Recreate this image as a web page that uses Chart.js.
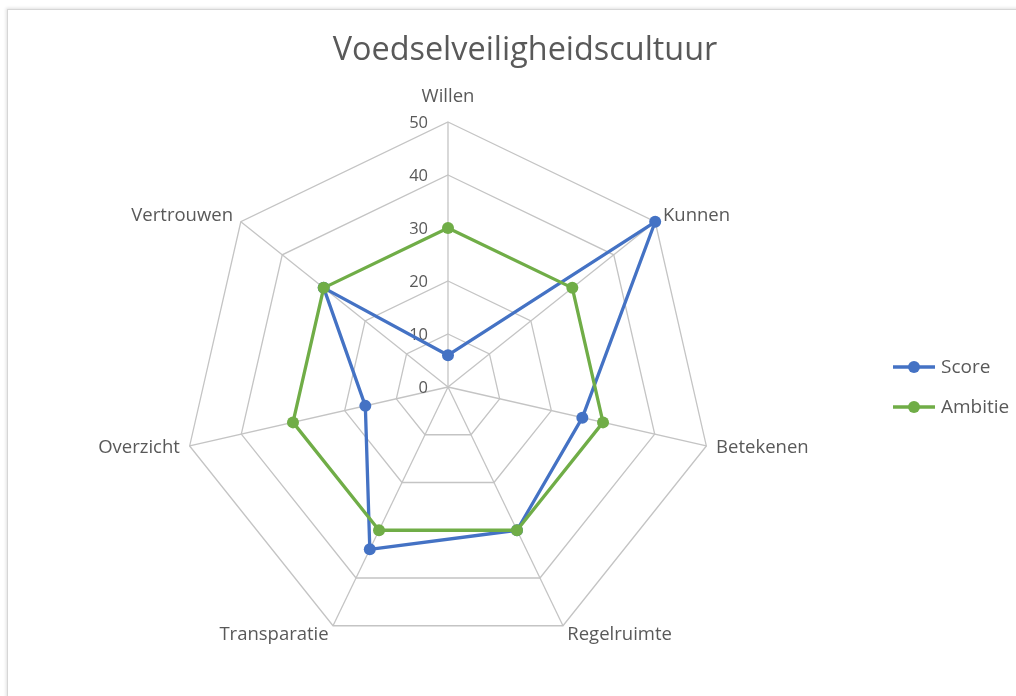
<!DOCTYPE html>
<html><head><meta charset="utf-8">
<script src="https://cdn.jsdelivr.net/npm/chart.js@4.4.1/dist/chart.umd.min.js"></script>
<style>
html,body{margin:0;padding:0;background:#fff;overflow:hidden;width:1016px;height:696px}
#frame{position:absolute;left:7px;top:9px;width:1100px;height:800px;border:1px solid #d6d6d6;box-shadow:-1px -1px 3px rgba(0,0,0,0.12)}
#wrap{position:absolute;left:0;top:0;width:1016px;height:696px}
</style></head><body>
<div id="frame"></div>
<div id="wrap"><canvas id="c" width="1016" height="696"></canvas></div>
<script>
const chartTitle = 'Voedselveiligheidscultuur';
const categories = ['Willen','Kunnen','Betekenen','Regelruimte','Transparatie','Overzicht','Vertrouwen'];
const scoreValues = [6, 50, 26, 30, 34, 16, 30];
const ambitieValues = [30, 30, 30, 30, 30, 30, 30];
const tickValues = [0, 10, 20, 30, 40, 50];
const seriesNames = ['Score', 'Ambitie'];

const FONT = '"Open Sans", Lato, sans-serif';
const TEXT = '#595959';
const GRID = '#c4c4c4';

const labelsPlugin = {
  id: 'customText',
  beforeDatasetsDraw(chart) {
    const s = chart.scales.r, ctx = chart.ctx;
    ctx.save();
    ctx.fillStyle = TEXT;
    ctx.font = '16.5px ' + FONT;
    ctx.textAlign = 'right';
    ctx.textBaseline = 'middle';
    tickValues.forEach(v => {
      ctx.fillText(String(v), s.xCenter - 20, s.yCenter - s.getDistanceFromCenterForValue(v) + 1);
    });
    ctx.restore();
  },
  afterDraw(chart) {
    const s = chart.scales.r, ctx = chart.ctx;
    ctx.save();
    ctx.fillStyle = TEXT;
    ctx.font = '18.5px ' + FONT;
    ctx.textBaseline = 'middle';
    categories.forEach((lab, i) => {
      const p = s.getPointPosition(i, s.drawingArea + 10);
      const c = Math.cos(p.angle), sn = Math.sin(p.angle);
      let y = p.y;
      if (Math.abs(c) < 0.05) { ctx.textAlign = 'center'; if (sn < 0) y -= 15; }
      else ctx.textAlign = c > 0 ? 'left' : 'right';
      ctx.fillText(lab, p.x, y);
    });
    ctx.font = '32.4px ' + FONT;
    ctx.textAlign = 'center';
    ctx.fillText(chartTitle, 525, 51);
    ctx.font = '19px ' + FONT;
    ctx.textAlign = 'left';
    chart.data.datasets.forEach((ds, i) => {
      const y = 367 + i * 40;
      ctx.strokeStyle = ds.borderColor;
      ctx.lineWidth = 3.3;
      ctx.beginPath(); ctx.moveTo(893, y); ctx.lineTo(935, y); ctx.stroke();
      ctx.fillStyle = ds.borderColor;
      ctx.beginPath(); ctx.arc(914, y, 6, 0, Math.PI * 2); ctx.fill();
      ctx.fillStyle = TEXT;
      ctx.fillText(ds.label, 941, y + 1);
    });
    ctx.restore();
  }
};

new Chart(document.getElementById('c'), {
  type: 'radar',
  data: {
    labels: categories,
    datasets: [
      { label: seriesNames[0], data: scoreValues, borderColor: '#4472C4', backgroundColor: '#4472C4',
        pointBackgroundColor: '#4472C4', pointBorderColor: '#4472C4', borderWidth: 3.3, pointRadius: 6,
        pointBorderWidth: 0, fill: false, tension: 0, order: 2 },
      { label: seriesNames[1], data: ambitieValues, borderColor: '#70AD47', backgroundColor: '#70AD47',
        pointBackgroundColor: '#70AD47', pointBorderColor: '#70AD47', borderWidth: 3.3, pointRadius: 6,
        pointBorderWidth: 0, fill: false, tension: 0, order: 1 }
    ]
  },
  options: {
    responsive: false,
    animation: false,
    devicePixelRatio: 1,
    layout: { padding: { left: 183, right: 303, top: 122, bottom: 44 } },
    plugins: { legend: { display: false }, title: { display: false }, tooltip: { enabled: false } },
    elements: { line: { borderJoinStyle: 'round' } },
    scales: {
      r: {
        min: 0, max: 50,
        ticks: { stepSize: 10, display: false },
        pointLabels: { display: false },
        grid: { color: GRID, lineWidth: 1.3, circular: false },
        angleLines: { color: GRID, lineWidth: 1.3 }
      }
    }
  },
  plugins: [labelsPlugin]
});
</script>
</body></html>
